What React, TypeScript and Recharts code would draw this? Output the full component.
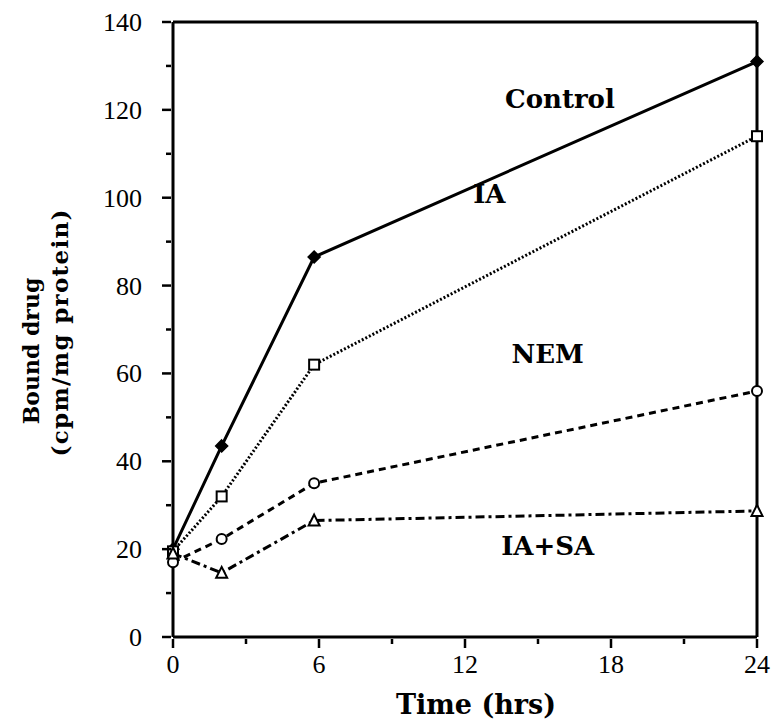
import React from "react";
import { LineChart, Line, XAxis, YAxis, ReferenceLine, ReferenceDot } from "recharts";

const times = [0, 2, 5.8, 24];
const control = [20, 43.5, 86.5, 131];
const ia = [19.5, 32, 62, 114];
const nem = [17, 22.3, 35, 56];
const iaSa = [19, 14.6, 26.5, 28.7];

const xTicks = [0, 3, 6, 9, 12, 15, 18, 21, 24];
const yTicks = [0, 10, 20, 30, 40, 50, 60, 70, 80, 90, 100, 110, 120, 130, 140];

const seriesLabels = [
  { name: "Control", x: 15.9, y: 122.7 },
  { name: "IA", x: 13.0, y: 101.1 },
  { name: "NEM", x: 15.4, y: 64.6 },
  { name: "IA+SA", x: 15.4, y: 20.9 },
];

const data = times.map((t, i) => ({
  t,
  control: control[i],
  ia: ia[i],
  nem: nem[i],
  iaSa: iaSa[i],
}));

const TICK_FONT = "'Liberation Serif', 'Times New Roman', serif";
const TITLE_FONT = "'DejaVu Serif', serif";

const Diamond = (p: any) => (
  <polygon
    key={p.index}
    points={`${p.cx},${p.cy - 6} ${p.cx + 6},${p.cy} ${p.cx},${p.cy + 6} ${p.cx - 6},${p.cy}`}
    fill="#000"
    stroke="#000"
    strokeWidth={1.5}
  />
);
const Square = (p: any) => (
  <rect key={p.index} x={p.cx - 5} y={p.cy - 5} width={10} height={10} fill="#fff" stroke="#000" strokeWidth={2} />
);
const Circle = (p: any) => <circle key={p.index} cx={p.cx} cy={p.cy} r={5} fill="#fff" stroke="#000" strokeWidth={2} />;
const Triangle = (p: any) => (
  <polygon
    key={p.index}
    points={`${p.cx},${p.cy - 6} ${p.cx + 5.5},${p.cy + 5} ${p.cx - 5.5},${p.cy + 5}`}
    fill="#fff"
    stroke="#000"
    strokeWidth={2}
  />
);

const XTick = (props: any) => {
  const { x, y, payload } = props;
  const major = payload.value % 6 === 0;
  return (
    <g>
      <line x1={x} y1={y} x2={x} y2={y + (major ? 9 : 5)} stroke="#000" strokeWidth={2.5} />
      {major && (
        <text x={x} y={y + 34} textAnchor="middle" fontFamily={TICK_FONT} fontSize={26} fill="#000">
          {payload.value}
        </text>
      )}
    </g>
  );
};

const YTick = (props: any) => {
  const { x, y, payload } = props;
  const major = payload.value % 20 === 0;
  return (
    <g>
      <line x1={x} y1={y} x2={x - (major ? 9 : 5)} y2={y} stroke="#000" strokeWidth={2.5} />
      {major && (
        <text x={x - 29} y={y + 9} textAnchor="end" fontFamily={TICK_FONT} fontSize={26} fill="#000">
          {payload.value}
        </text>
      )}
    </g>
  );
};

const YTitle = () => (
  <g fontFamily={TITLE_FONT} fontWeight="bold" fill="#000">
    <text x={0} y={0} textAnchor="middle" fontSize={22} transform="translate(39,351) rotate(-90)">
      Bound drug
    </text>
    <text
      x={0}
      y={0}
      textAnchor="middle"
      fontSize={23}
      textLength={247}
      lengthAdjust="spacing"
      transform="translate(68,333) rotate(-90)"
    >
      (cpm/mg protein)
    </text>
  </g>
);

const XTitle = (props: any) => {
  const vb = props.viewBox || { x: 173, width: 584, y: 637 };
  return (
    <text
      x={vb.x + vb.width / 2 + 11}
      y={714}
      textAnchor="middle"
      fontFamily={TITLE_FONT}
      fontWeight="bold"
      fontSize={27}
      fill="#000"
    >
      Time (hrs)
    </text>
  );
};

export default function App() {
  return (
    <div style={{ position: "absolute", left: 0, top: 0, background: "#fff" }}>
      <LineChart width={780} height={722} data={data} margin={{ top: 22, right: 23, bottom: 45, left: 113 }}>
        <XAxis
          dataKey="t"
          type="number"
          domain={[0, 24]}
          ticks={xTicks}
          tick={<XTick />}
          tickLine={false}
          tickSize={0}
          height={40}
          axisLine={{ stroke: "#000", strokeWidth: 3 }}
          label={<XTitle />}
        />
        <YAxis
          type="number"
          domain={[0, 140]}
          ticks={yTicks}
          tick={<YTick />}
          tickLine={false}
          tickSize={0}
          width={60}
          axisLine={{ stroke: "#000", strokeWidth: 3 }}
          label={<YTitle />}
        />
        <ReferenceLine x={24} stroke="#000" strokeWidth={3} />
        <ReferenceLine y={140} stroke="#000" strokeWidth={3} />
        <Line dataKey="control" stroke="#000" strokeWidth={3} dot={Diamond} isAnimationActive={false} />
        <Line
          dataKey="ia"
          stroke="#000"
          strokeWidth={3}
          strokeDasharray="2 2"
          dot={Square}
          isAnimationActive={false}
        />
        <Line
          dataKey="nem"
          stroke="#000"
          strokeWidth={3}
          strokeDasharray="7 5"
          dot={Circle}
          isAnimationActive={false}
        />
        <Line
          dataKey="iaSa"
          stroke="#000"
          strokeWidth={3}
          strokeDasharray="9 4 3 4"
          dot={Triangle}
          isAnimationActive={false}
        />
        {seriesLabels.map((l) => (
          <ReferenceDot
            key={l.name}
            x={l.x}
            y={l.y}
            r={0}
            shape={(p: any) => (
              <text
                x={p.cx}
                y={p.cy + 10}
                textAnchor="middle"
                fontFamily={TITLE_FONT}
                fontWeight="bold"
                fontSize={26}
                fill="#000"
              >
                {l.name}
              </text>
            )}
          />
        ))}
      </LineChart>
    </div>
  );
}
